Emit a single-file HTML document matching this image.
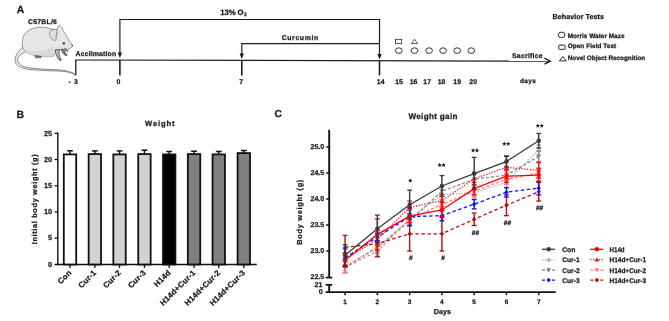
<!DOCTYPE html>
<html><head><meta charset="utf-8"><style>
html,body{margin:0;padding:0;background:#fff;}
body{width:669px;height:321px;overflow:hidden;}
svg{display:block;will-change:transform;}
svg text{font-family:"Liberation Sans",sans-serif;font-weight:bold;text-rendering:geometricPrecision;stroke:#1a1a1a;stroke-width:0.25px;}
</style></head><body>
<svg width="669" height="321" viewBox="0 0 669 321">
<text x="16.8" y="12.6" font-size="10.4" text-anchor="start" fill="#1a1a1a" >A</text>
<text x="28" y="24.3" font-size="6.8" text-anchor="start" fill="#1a1a1a" textLength="28.9" lengthAdjust="spacing" >C57BL/6</text>
<g id="mouse" stroke="#7a7a7a" stroke-width="0.75" stroke-linejoin="round" stroke-linecap="round">
  <path d="M22.3,47.6 C18.5,51.5 15,55.5 15,59.8 C15,64 18.5,67 24,68.5 C32,70.3 46,70.6 58,71 C66,71.3 71,72.5 74.2,74.3 L75.7,75.4 L75.3,74.2 C71.5,71.8 66,70.3 58,69.8 C46,69.2 33,68.9 25.5,67.1 C20.5,65.7 17.6,63 17.6,59.5 C17.6,56.5 20.5,53.8 25.6,51.9 Z" fill="#ececec" stroke="#6e6e6e" stroke-width="0.8"/>
  <path d="M22.5,47.4 C21.8,42 22.5,36 26,32.5 C29.5,29 34.5,27.3 40,27.2 C45,27.2 49.5,28.2 53,29.5 L57.2,30 C57.4,28 57.8,26 58.5,25.7 C59.6,25.3 61,26.2 61.8,27.5 C62.6,28.8 63,30 63.2,30.5 C64.5,33 66.5,36 68.5,39.5 C70,42 71.2,43.5 72.3,45 C72.8,45.8 72.5,46.5 71.8,47.2 C70.8,48.2 69.5,48.8 68,49.2 C66,49.3 63,49 60,49.3 C58,49.5 56.5,50.5 55.5,51.5 C55,53.5 54.5,55 54,56 C50,57 45,56.8 41.5,56.2 C37,55.7 32,55 28,53.5 C26,52.8 24,50.5 22.5,47.4 Z" fill="#e6e6e6"/>
  <path d="M23.5,48.5 C28,50.5 34,51.5 40,51 C46,50.5 50,48.5 53,46 C54.5,48 55.5,50 55.5,51.5 C55,53.5 54.5,55 54,56 C50,57 45,56.8 41.5,56.2 C37,55.7 32,55 28,53.5 C26,52.8 24.5,50.5 23.5,48.5 Z" fill="#d9d9d9" stroke="none"/>
  <path d="M35,55.4 L41.6,56.2 L40.6,58.1 L38.3,57.4 L36.6,58.3 L35.4,57.2 Z" fill="#6a6a6a" stroke="#555" stroke-width="0.5"/>
  <path d="M52.9,29.4 C50.5,30 49.3,32 49.5,34.5 C49.7,37 51.5,39 53.5,40 C54.8,40.6 55.8,40.5 56,39.5 C56.3,37 57,33 57.2,30 C56,29.4 54.3,29.1 52.9,29.4 Z" fill="#dedede"/>
  <path d="M55.6,36.2 C56.2,34.8 56.9,33.6 57.7,32.6" fill="none" stroke-width="0.6"/>
  <path d="M55.3,50.3 C55.5,53.5 56.8,56.5 58.3,58.8 L60.6,60.8 L61.4,59.8 C60.4,58.4 59.6,56.8 59.2,55 C58.8,53 58.9,51.5 59.6,50 Z" fill="#c4c4c4" stroke="#4a4a4a" stroke-width="0.9"/>
  <path d="M58.6,58.6 L59.4,60.3 M59.8,58.2 L60.9,59.6" stroke="#444" stroke-width="0.6"/>
  <path d="M61.3,49.6 C61.8,52 63.2,54 65.2,55.4 L67,55.6 L66.6,54 C65.4,53 64.8,51.8 64.8,50.2 Z" fill="#7a7a7a" stroke="#4a4a4a" stroke-width="0.7"/>
  <path d="M65,48.8 C66,49.8 67,50.6 67.8,51.3" stroke="#444" stroke-width="1.1"/>
  <ellipse cx="63.8" cy="43.4" rx="1.2" ry="1.1" fill="#262626" stroke="none"/>
  <circle cx="72.2" cy="45.6" r="0.75" fill="#333" stroke="none"/>
</g>
<line x1="75.8" y1="60" x2="549.5" y2="61.2" stroke="#1e1e1e" stroke-width="1.2"/>
<path d="M544.4,58.2 L550.3,61.2 L544.4,64.2" fill="none" stroke="#1e1e1e" stroke-width="1.3"/>
<line x1="75.8" y1="59.4" x2="75.8" y2="75.3" stroke="#1e1e1e" stroke-width="1.3"/>
<line x1="119.9" y1="60" x2="119.9" y2="75.4" stroke="#1e1e1e" stroke-width="1.6"/>
<line x1="241.8" y1="60.3" x2="241.8" y2="75.4" stroke="#1e1e1e" stroke-width="1.6"/>
<line x1="379.5" y1="61" x2="379.5" y2="75.4" stroke="#1e1e1e" stroke-width="1.6"/>
<path d="M119.9,54 L119.9,19.5 L379.5,19.5 L379.5,55" fill="none" stroke="#1e1e1e" stroke-width="1.2"/>
<path d="M117.7,52.6 L122.1,52.6 L119.9,58 Z" fill="#1e1e1e"/>
<path d="M377.3,54 L381.7,54 L379.5,59.5 Z" fill="#1e1e1e"/>
<path d="M241.8,54.5 L241.8,43.6 L380,43.6" fill="none" stroke="#1e1e1e" stroke-width="1.2"/>
<path d="M239.6,53.5 L244,53.5 L241.8,59 Z" fill="#1e1e1e"/>
<text x="220.3" y="14.5" font-size="7.8" text-anchor="start" fill="#1a1a1a" textLength="23.2" lengthAdjust="spacing" >13% O</text>
<text x="244.1" y="16.2" font-size="5.0" text-anchor="start" fill="#1a1a1a" >2</text>
<text x="281.7" y="39.7" font-size="6.9" text-anchor="start" fill="#1a1a1a" textLength="36.5" lengthAdjust="spacing" >Curcumin</text>
<text x="75.5" y="55.8" font-size="6.9" text-anchor="start" fill="#1a1a1a" textLength="40.7" lengthAdjust="spacing" >Acclimation</text>
<text x="68.5" y="83.7" font-size="6.9" text-anchor="start" fill="#1a1a1a" >-</text>
<text x="76.0" y="83.7" font-size="6.9" text-anchor="middle" fill="#1a1a1a" >3</text>
<text x="118.3" y="83.7" font-size="6.9" text-anchor="middle" fill="#1a1a1a" >0</text>
<text x="241.2" y="83.7" font-size="6.9" text-anchor="middle" fill="#1a1a1a" >7</text>
<text x="380.7" y="83.7" font-size="6.9" text-anchor="middle" fill="#1a1a1a" >14</text>
<text x="399.1" y="83.7" font-size="6.9" text-anchor="middle" fill="#1a1a1a" >15</text>
<text x="413.5" y="83.7" font-size="6.9" text-anchor="middle" fill="#1a1a1a" >16</text>
<text x="427.2" y="83.7" font-size="6.9" text-anchor="middle" fill="#1a1a1a" >17</text>
<text x="441.5" y="83.7" font-size="6.9" text-anchor="middle" fill="#1a1a1a" >18</text>
<text x="457.2" y="83.7" font-size="6.9" text-anchor="middle" fill="#1a1a1a" >19</text>
<text x="473.2" y="83.7" font-size="6.9" text-anchor="middle" fill="#1a1a1a" >20</text>
<text x="527.9" y="83.3" font-size="6.5" text-anchor="middle" fill="#1a1a1a" textLength="15.9" lengthAdjust="spacing" >days</text>
<text x="512" y="57.8" font-size="6.9" text-anchor="start" fill="#1a1a1a" textLength="30.6" lengthAdjust="spacing" >Sacrifice</text>
<rect x="395.5" y="39.3" width="6.2" height="4.4" fill="none" stroke="#2a2a2a" stroke-width="0.8"/>
<path d="M411.4,43.6 L417.6,43.6 L414.5,39.2 Z" fill="none" stroke="#2a2a2a" stroke-width="0.8"/>
<ellipse cx="398.8" cy="50.6" rx="3.35" ry="2.8" fill="none" stroke="#2a2a2a" stroke-width="0.95"/>
<ellipse cx="414.5" cy="50.6" rx="3.35" ry="2.8" fill="none" stroke="#2a2a2a" stroke-width="0.95"/>
<ellipse cx="429.1" cy="50.6" rx="3.35" ry="2.8" fill="none" stroke="#2a2a2a" stroke-width="0.95"/>
<ellipse cx="443.1" cy="50.6" rx="3.35" ry="2.8" fill="none" stroke="#2a2a2a" stroke-width="0.95"/>
<ellipse cx="457.2" cy="50.6" rx="3.35" ry="2.8" fill="none" stroke="#2a2a2a" stroke-width="0.95"/>
<ellipse cx="471.3" cy="50.6" rx="3.35" ry="2.8" fill="none" stroke="#2a2a2a" stroke-width="0.95"/>
<text x="552.5" y="18.9" font-size="7.2" text-anchor="start" fill="#1a1a1a" textLength="51.5" lengthAdjust="spacing" >Behavior Tests</text>
<ellipse cx="561.6" cy="34.9" rx="3.4" ry="2.8" fill="none" stroke="#2a2a2a" stroke-width="1"/>
<rect x="558.8" y="45.1" width="6.3" height="4.3" rx="0.6" fill="none" stroke="#2a2a2a" stroke-width="1"/>
<path d="M559.4,60.9 L566.2,60.9 L562.8,56.5 Z" fill="none" stroke="#2a2a2a" stroke-width="1" stroke-linejoin="round"/>
<text x="567.7" y="37.8" font-size="6.4" text-anchor="start" fill="#1a1a1a" textLength="56.8" lengthAdjust="spacing" >Morris Water Maze</text>
<text x="567.7" y="48.0" font-size="6.4" text-anchor="start" fill="#1a1a1a" textLength="48.5" lengthAdjust="spacing" >Open Field Test</text>
<text x="567.7" y="59.6" font-size="6.4" text-anchor="start" fill="#1a1a1a" textLength="77.5" lengthAdjust="spacing" >Novel Object Recognition</text>
<text x="16.4" y="117.6" font-size="10.5" text-anchor="start" fill="#1a1a1a" >B</text>
<text x="145" y="126.0" font-size="7.6" fill="#1a1a1a" textLength="29.6" lengthAdjust="spacing">Weight</text>
<line x1="57.8" y1="132.6" x2="57.8" y2="265.2" stroke="#111" stroke-width="1.4"/>
<line x1="54.6" y1="264.5" x2="256.8" y2="264.5" stroke="#111" stroke-width="1.4"/>
<text x="52.1" y="266.59999999999997" font-size="7.3" text-anchor="end" fill="#1a1a1a" >0</text>
<line x1="54.6" y1="238.18" x2="57.8" y2="238.18" stroke="#111" stroke-width="1.3"/>
<text x="52.1" y="240.37999999999997" font-size="7.3" text-anchor="end" fill="#1a1a1a" >5</text>
<line x1="54.6" y1="211.96" x2="57.8" y2="211.96" stroke="#111" stroke-width="1.3"/>
<text x="52.1" y="214.15999999999997" font-size="7.3" text-anchor="end" fill="#1a1a1a" >10</text>
<line x1="54.6" y1="185.74" x2="57.8" y2="185.74" stroke="#111" stroke-width="1.3"/>
<text x="52.1" y="187.93999999999997" font-size="7.3" text-anchor="end" fill="#1a1a1a" >15</text>
<line x1="54.6" y1="159.52" x2="57.8" y2="159.52" stroke="#111" stroke-width="1.3"/>
<text x="52.1" y="161.71999999999997" font-size="7.3" text-anchor="end" fill="#1a1a1a" >20</text>
<line x1="54.6" y1="133.30" x2="57.8" y2="133.30" stroke="#111" stroke-width="1.3"/>
<text x="52.1" y="135.49999999999997" font-size="7.3" text-anchor="end" fill="#1a1a1a" >25</text>
<rect x="63.80" y="154.4" width="12.4" height="110.10" fill="#ffffff" stroke="#111" stroke-width="1.8"/>
<line x1="70.00" y1="150.8" x2="70.00" y2="154.4" stroke="#111" stroke-width="1.4"/>
<line x1="67.10" y1="150.8" x2="72.90" y2="150.8" stroke="#111" stroke-width="1.5"/>
<line x1="70.00" y1="264.5" x2="70.00" y2="268" stroke="#111" stroke-width="1.3"/>
<rect x="88.65" y="154.1" width="12.4" height="110.40" fill="#d2d2d2" stroke="#111" stroke-width="1.8"/>
<line x1="94.85" y1="150.9" x2="94.85" y2="154.1" stroke="#111" stroke-width="1.4"/>
<line x1="91.95" y1="150.9" x2="97.75" y2="150.9" stroke="#111" stroke-width="1.5"/>
<line x1="94.85" y1="264.5" x2="94.85" y2="268" stroke="#111" stroke-width="1.3"/>
<rect x="113.35" y="154.4" width="12.4" height="110.10" fill="#d2d2d2" stroke="#111" stroke-width="1.8"/>
<line x1="119.55" y1="150.9" x2="119.55" y2="154.4" stroke="#111" stroke-width="1.4"/>
<line x1="116.65" y1="150.9" x2="122.45" y2="150.9" stroke="#111" stroke-width="1.5"/>
<line x1="119.55" y1="264.5" x2="119.55" y2="268" stroke="#111" stroke-width="1.3"/>
<rect x="138.25" y="154.1" width="12.4" height="110.40" fill="#d2d2d2" stroke="#111" stroke-width="1.8"/>
<line x1="144.45" y1="150.2" x2="144.45" y2="154.1" stroke="#111" stroke-width="1.4"/>
<line x1="141.55" y1="150.2" x2="147.35" y2="150.2" stroke="#111" stroke-width="1.5"/>
<line x1="144.45" y1="264.5" x2="144.45" y2="268" stroke="#111" stroke-width="1.3"/>
<rect x="163.00" y="154.4" width="12.4" height="110.10" fill="#000000" stroke="#111" stroke-width="1.8"/>
<line x1="169.20" y1="151.5" x2="169.20" y2="154.4" stroke="#111" stroke-width="1.4"/>
<line x1="166.30" y1="151.5" x2="172.10" y2="151.5" stroke="#111" stroke-width="1.5"/>
<line x1="169.20" y1="264.5" x2="169.20" y2="268" stroke="#111" stroke-width="1.3"/>
<rect x="187.85" y="154.1" width="12.4" height="110.40" fill="#808080" stroke="#111" stroke-width="1.8"/>
<line x1="194.05" y1="151.2" x2="194.05" y2="154.1" stroke="#111" stroke-width="1.4"/>
<line x1="191.15" y1="151.2" x2="196.95" y2="151.2" stroke="#111" stroke-width="1.5"/>
<line x1="194.05" y1="264.5" x2="194.05" y2="268" stroke="#111" stroke-width="1.3"/>
<rect x="212.55" y="154.4" width="12.4" height="110.10" fill="#808080" stroke="#111" stroke-width="1.8"/>
<line x1="218.75" y1="151.5" x2="218.75" y2="154.4" stroke="#111" stroke-width="1.4"/>
<line x1="215.85" y1="151.5" x2="221.65" y2="151.5" stroke="#111" stroke-width="1.5"/>
<line x1="218.75" y1="264.5" x2="218.75" y2="268" stroke="#111" stroke-width="1.3"/>
<rect x="237.60" y="153.1" width="12.4" height="111.40" fill="#808080" stroke="#111" stroke-width="1.8"/>
<line x1="243.80" y1="150.5" x2="243.80" y2="153.1" stroke="#111" stroke-width="1.4"/>
<line x1="240.90" y1="150.5" x2="246.70" y2="150.5" stroke="#111" stroke-width="1.5"/>
<line x1="243.80" y1="264.5" x2="243.80" y2="268" stroke="#111" stroke-width="1.3"/>
<text transform="translate(72.00,273.3) rotate(-45)" letter-spacing="0.2" font-size="7.9" text-anchor="end" fill="#1a1a1a">Con</text>
<text transform="translate(96.85,273.3) rotate(-45)" letter-spacing="0.2" font-size="7.9" text-anchor="end" fill="#1a1a1a">Cur-1</text>
<text transform="translate(121.55,273.3) rotate(-45)" letter-spacing="0.2" font-size="7.9" text-anchor="end" fill="#1a1a1a">Cur-2</text>
<text transform="translate(146.45,273.3) rotate(-45)" letter-spacing="0.2" font-size="7.9" text-anchor="end" fill="#1a1a1a">Cur-3</text>
<text transform="translate(171.20,273.3) rotate(-45)" letter-spacing="0.2" font-size="7.9" text-anchor="end" fill="#1a1a1a">H14d</text>
<text transform="translate(196.05,273.3) rotate(-45)" letter-spacing="0.2" font-size="7.9" text-anchor="end" fill="#1a1a1a">H14d+Cur-1</text>
<text transform="translate(220.75,273.3) rotate(-45)" letter-spacing="0.2" font-size="7.9" text-anchor="end" fill="#1a1a1a">H14d+Cur-2</text>
<text transform="translate(245.80,273.3) rotate(-45)" letter-spacing="0.2" font-size="7.9" text-anchor="end" fill="#1a1a1a">H14d+Cur-3</text>
<text transform="translate(36.9,199.3) rotate(-90)" font-size="7.3" text-anchor="middle" fill="#1a1a1a" textLength="90" lengthAdjust="spacing">Initial body weight (g)</text>
<text x="274.4" y="117.4" font-size="10.1" text-anchor="start" fill="#1a1a1a" >C</text>
<text x="432.9" y="118.7" font-size="8.1" text-anchor="middle" fill="#1a1a1a" textLength="49" lengthAdjust="spacing" >Weight gain</text>
<line x1="329.2" y1="129.8" x2="329.2" y2="277.6" stroke="#111" stroke-width="1.9"/>
<line x1="325.7" y1="277.6" x2="332.2" y2="277.6" stroke="#111" stroke-width="1.8"/>
<line x1="325.7" y1="284.9" x2="332.2" y2="284.9" stroke="#111" stroke-width="1.8"/>
<line x1="329.2" y1="284.9" x2="329.2" y2="292.1" stroke="#111" stroke-width="1.9"/>
<line x1="325.7" y1="292.1" x2="555.7" y2="292.1" stroke="#111" stroke-width="1.7"/>
<line x1="326.2" y1="147.00" x2="329.2" y2="147.00" stroke="#111" stroke-width="1.5"/>
<line x1="326.2" y1="173.00" x2="329.2" y2="173.00" stroke="#111" stroke-width="1.5"/>
<line x1="326.2" y1="199.00" x2="329.2" y2="199.00" stroke="#111" stroke-width="1.5"/>
<line x1="326.2" y1="225.00" x2="329.2" y2="225.00" stroke="#111" stroke-width="1.5"/>
<line x1="326.2" y1="251.00" x2="329.2" y2="251.00" stroke="#111" stroke-width="1.5"/>
<text x="324.3" y="149.4" font-size="7.1" text-anchor="end" fill="#1a1a1a" >25.0</text>
<text x="324.3" y="175.4" font-size="7.1" text-anchor="end" fill="#1a1a1a" >24.5</text>
<text x="324.3" y="201.4" font-size="7.1" text-anchor="end" fill="#1a1a1a" >24.0</text>
<text x="324.3" y="227.4" font-size="7.1" text-anchor="end" fill="#1a1a1a" >23.5</text>
<text x="324.3" y="253.4" font-size="7.1" text-anchor="end" fill="#1a1a1a" >23.0</text>
<text x="324.3" y="279.4" font-size="7.1" text-anchor="end" fill="#1a1a1a" >22.5</text>
<text x="322.5" y="287.2" font-size="7.1" text-anchor="end" fill="#1a1a1a" >21</text>
<text x="322.8" y="294.3" font-size="7.1" text-anchor="end" fill="#1a1a1a" >0</text>
<line x1="345.10" y1="292.1" x2="345.10" y2="295.2" stroke="#111" stroke-width="1.5"/>
<text x="345.1" y="303.6" font-size="6.5" text-anchor="middle" fill="#1a1a1a" >1</text>
<line x1="377.37" y1="292.1" x2="377.37" y2="295.2" stroke="#111" stroke-width="1.5"/>
<text x="377.37" y="303.6" font-size="6.5" text-anchor="middle" fill="#1a1a1a" >2</text>
<line x1="409.64" y1="292.1" x2="409.64" y2="295.2" stroke="#111" stroke-width="1.5"/>
<text x="409.64000000000004" y="303.6" font-size="6.5" text-anchor="middle" fill="#1a1a1a" >3</text>
<line x1="441.91" y1="292.1" x2="441.91" y2="295.2" stroke="#111" stroke-width="1.5"/>
<text x="441.91" y="303.6" font-size="6.5" text-anchor="middle" fill="#1a1a1a" >4</text>
<line x1="474.18" y1="292.1" x2="474.18" y2="295.2" stroke="#111" stroke-width="1.5"/>
<text x="474.18000000000006" y="303.6" font-size="6.5" text-anchor="middle" fill="#1a1a1a" >5</text>
<line x1="506.45" y1="292.1" x2="506.45" y2="295.2" stroke="#111" stroke-width="1.5"/>
<text x="506.45000000000005" y="303.6" font-size="6.5" text-anchor="middle" fill="#1a1a1a" >6</text>
<line x1="538.72" y1="292.1" x2="538.72" y2="295.2" stroke="#111" stroke-width="1.5"/>
<text x="538.72" y="303.6" font-size="6.5" text-anchor="middle" fill="#1a1a1a" >7</text>
<text x="442.3" y="313.6" font-size="7.2" text-anchor="middle" fill="#1a1a1a" textLength="17.3" lengthAdjust="spacing" >Days</text>
<text transform="translate(301.5,212.2) rotate(-90)" font-size="7.3" text-anchor="middle" fill="#1a1a1a" textLength="65" lengthAdjust="spacing">Body weight (g)</text>
<polyline points="345.10,265.56 377.37,248.40 409.64,218.76 441.91,194.84 474.18,192.76 506.45,182.36 538.72,150.12" fill="none" stroke="#ababab" stroke-width="1.3" stroke-dasharray="1.2,1.6"/>
<polyline points="345.10,267.64 377.37,246.84 409.64,220.84 441.91,191.20 474.18,179.24 506.45,175.08 538.72,156.36" fill="none" stroke="#8a8a8a" stroke-width="1.3" stroke-dasharray="3,2"/>
<polyline points="345.10,267.64 377.37,251.00 409.64,219.80 441.91,204.20 474.18,191.20 506.45,179.24 538.72,173.00" fill="none" stroke="#ff8080" stroke-width="1.3" stroke-dasharray="3,2"/>
<polyline points="345.10,258.80 377.37,239.56 409.64,207.32 441.91,200.56 474.18,178.72 506.45,167.28 538.72,170.40" fill="none" stroke="#ff1010" stroke-width="1.3" stroke-dasharray="1.2,1.6"/>
<polyline points="345.10,247.36 377.37,243.72 409.64,233.84 441.91,233.84 474.18,219.28 506.45,205.24 538.72,191.72" fill="none" stroke="#b01010" stroke-width="1.3" stroke-dasharray="3.5,2.5"/>
<polyline points="345.10,257.76 377.37,236.96 409.64,216.68 441.91,215.64 474.18,204.20 506.45,192.24 538.72,188.08" fill="none" stroke="#1010ff" stroke-width="1.3" stroke-dasharray="3.5,2.5"/>
<polyline points="345.10,260.36 377.37,234.36 409.64,216.16 441.91,209.92 474.18,188.60 506.45,176.12 538.72,175.08" fill="none" stroke="#ff0000" stroke-width="1.3"/>
<polyline points="345.10,255.16 377.37,228.64 409.64,204.72 441.91,186.00 474.18,173.52 506.45,161.56 538.72,140.76" fill="none" stroke="#3a3a3a" stroke-width="1.3"/>
<line x1="345.10" y1="260.36" x2="345.10" y2="270.76" stroke="#ababab" stroke-width="1.4"/>
<line x1="342.70" y1="260.36" x2="347.50" y2="260.36" stroke="#ababab" stroke-width="1.3"/>
<line x1="342.70" y1="270.76" x2="347.50" y2="270.76" stroke="#ababab" stroke-width="1.4"/>
<path d="M342.70,267.36 L347.50,267.36 L345.10,263.16 Z" fill="#ababab"/>
<line x1="377.37" y1="243.20" x2="377.37" y2="253.60" stroke="#ababab" stroke-width="1.4"/>
<line x1="374.97" y1="243.20" x2="379.77" y2="243.20" stroke="#ababab" stroke-width="1.3"/>
<line x1="374.97" y1="253.60" x2="379.77" y2="253.60" stroke="#ababab" stroke-width="1.4"/>
<path d="M374.97,250.20 L379.77,250.20 L377.37,246.00 Z" fill="#ababab"/>
<line x1="409.64" y1="213.56" x2="409.64" y2="223.96" stroke="#ababab" stroke-width="1.4"/>
<line x1="407.24" y1="213.56" x2="412.04" y2="213.56" stroke="#ababab" stroke-width="1.3"/>
<line x1="407.24" y1="223.96" x2="412.04" y2="223.96" stroke="#ababab" stroke-width="1.4"/>
<path d="M407.24,220.56 L412.04,220.56 L409.64,216.36 Z" fill="#ababab"/>
<line x1="441.91" y1="189.64" x2="441.91" y2="200.04" stroke="#ababab" stroke-width="1.4"/>
<line x1="439.51" y1="189.64" x2="444.31" y2="189.64" stroke="#ababab" stroke-width="1.3"/>
<line x1="439.51" y1="200.04" x2="444.31" y2="200.04" stroke="#ababab" stroke-width="1.4"/>
<path d="M439.51,196.64 L444.31,196.64 L441.91,192.44 Z" fill="#ababab"/>
<line x1="474.18" y1="187.56" x2="474.18" y2="197.96" stroke="#ababab" stroke-width="1.4"/>
<line x1="471.78" y1="187.56" x2="476.58" y2="187.56" stroke="#ababab" stroke-width="1.3"/>
<line x1="471.78" y1="197.96" x2="476.58" y2="197.96" stroke="#ababab" stroke-width="1.4"/>
<path d="M471.78,194.56 L476.58,194.56 L474.18,190.36 Z" fill="#ababab"/>
<line x1="506.45" y1="177.16" x2="506.45" y2="187.56" stroke="#ababab" stroke-width="1.4"/>
<line x1="504.05" y1="177.16" x2="508.85" y2="177.16" stroke="#ababab" stroke-width="1.3"/>
<line x1="504.05" y1="187.56" x2="508.85" y2="187.56" stroke="#ababab" stroke-width="1.4"/>
<path d="M504.05,184.16 L508.85,184.16 L506.45,179.96 Z" fill="#ababab"/>
<line x1="538.72" y1="144.92" x2="538.72" y2="155.32" stroke="#ababab" stroke-width="1.4"/>
<line x1="536.32" y1="144.92" x2="541.12" y2="144.92" stroke="#ababab" stroke-width="1.3"/>
<line x1="536.32" y1="155.32" x2="541.12" y2="155.32" stroke="#ababab" stroke-width="1.4"/>
<path d="M536.32,151.92 L541.12,151.92 L538.72,147.72 Z" fill="#ababab"/>
<line x1="345.10" y1="262.44" x2="345.10" y2="272.84" stroke="#8a8a8a" stroke-width="1.4"/>
<line x1="342.70" y1="262.44" x2="347.50" y2="262.44" stroke="#8a8a8a" stroke-width="1.3"/>
<line x1="342.70" y1="272.84" x2="347.50" y2="272.84" stroke="#8a8a8a" stroke-width="1.4"/>
<path d="M342.70,265.84 L347.50,265.84 L345.10,270.04 Z" fill="#8a8a8a"/>
<line x1="377.37" y1="241.64" x2="377.37" y2="252.04" stroke="#8a8a8a" stroke-width="1.4"/>
<line x1="374.97" y1="241.64" x2="379.77" y2="241.64" stroke="#8a8a8a" stroke-width="1.3"/>
<line x1="374.97" y1="252.04" x2="379.77" y2="252.04" stroke="#8a8a8a" stroke-width="1.4"/>
<path d="M374.97,245.04 L379.77,245.04 L377.37,249.24 Z" fill="#8a8a8a"/>
<line x1="409.64" y1="215.64" x2="409.64" y2="226.04" stroke="#8a8a8a" stroke-width="1.4"/>
<line x1="407.24" y1="215.64" x2="412.04" y2="215.64" stroke="#8a8a8a" stroke-width="1.3"/>
<line x1="407.24" y1="226.04" x2="412.04" y2="226.04" stroke="#8a8a8a" stroke-width="1.4"/>
<path d="M407.24,219.04 L412.04,219.04 L409.64,223.24 Z" fill="#8a8a8a"/>
<line x1="441.91" y1="186.00" x2="441.91" y2="196.40" stroke="#8a8a8a" stroke-width="1.4"/>
<line x1="439.51" y1="186.00" x2="444.31" y2="186.00" stroke="#8a8a8a" stroke-width="1.3"/>
<line x1="439.51" y1="196.40" x2="444.31" y2="196.40" stroke="#8a8a8a" stroke-width="1.4"/>
<path d="M439.51,189.40 L444.31,189.40 L441.91,193.60 Z" fill="#8a8a8a"/>
<line x1="474.18" y1="174.04" x2="474.18" y2="184.44" stroke="#8a8a8a" stroke-width="1.4"/>
<line x1="471.78" y1="174.04" x2="476.58" y2="174.04" stroke="#8a8a8a" stroke-width="1.3"/>
<line x1="471.78" y1="184.44" x2="476.58" y2="184.44" stroke="#8a8a8a" stroke-width="1.4"/>
<path d="M471.78,177.44 L476.58,177.44 L474.18,181.64 Z" fill="#8a8a8a"/>
<line x1="506.45" y1="169.88" x2="506.45" y2="180.28" stroke="#8a8a8a" stroke-width="1.4"/>
<line x1="504.05" y1="169.88" x2="508.85" y2="169.88" stroke="#8a8a8a" stroke-width="1.3"/>
<line x1="504.05" y1="180.28" x2="508.85" y2="180.28" stroke="#8a8a8a" stroke-width="1.4"/>
<path d="M504.05,173.28 L508.85,173.28 L506.45,177.48 Z" fill="#8a8a8a"/>
<line x1="538.72" y1="151.16" x2="538.72" y2="161.56" stroke="#8a8a8a" stroke-width="1.4"/>
<line x1="536.32" y1="151.16" x2="541.12" y2="151.16" stroke="#8a8a8a" stroke-width="1.3"/>
<line x1="536.32" y1="161.56" x2="541.12" y2="161.56" stroke="#8a8a8a" stroke-width="1.4"/>
<path d="M536.32,154.56 L541.12,154.56 L538.72,158.76 Z" fill="#8a8a8a"/>
<line x1="345.10" y1="262.44" x2="345.10" y2="272.84" stroke="#ff8080" stroke-width="1.4"/>
<line x1="342.70" y1="262.44" x2="347.50" y2="262.44" stroke="#ff8080" stroke-width="1.3"/>
<line x1="342.70" y1="272.84" x2="347.50" y2="272.84" stroke="#ff8080" stroke-width="1.4"/>
<path d="M342.70,265.84 L347.50,265.84 L345.10,270.04 Z" fill="#ff8080"/>
<line x1="377.37" y1="245.80" x2="377.37" y2="256.20" stroke="#ff8080" stroke-width="1.4"/>
<line x1="374.97" y1="245.80" x2="379.77" y2="245.80" stroke="#ff8080" stroke-width="1.3"/>
<line x1="374.97" y1="256.20" x2="379.77" y2="256.20" stroke="#ff8080" stroke-width="1.4"/>
<path d="M374.97,249.20 L379.77,249.20 L377.37,253.40 Z" fill="#ff8080"/>
<line x1="409.64" y1="214.60" x2="409.64" y2="225.00" stroke="#ff8080" stroke-width="1.4"/>
<line x1="407.24" y1="214.60" x2="412.04" y2="214.60" stroke="#ff8080" stroke-width="1.3"/>
<line x1="407.24" y1="225.00" x2="412.04" y2="225.00" stroke="#ff8080" stroke-width="1.4"/>
<path d="M407.24,218.00 L412.04,218.00 L409.64,222.20 Z" fill="#ff8080"/>
<line x1="441.91" y1="199.00" x2="441.91" y2="209.40" stroke="#ff8080" stroke-width="1.4"/>
<line x1="439.51" y1="199.00" x2="444.31" y2="199.00" stroke="#ff8080" stroke-width="1.3"/>
<line x1="439.51" y1="209.40" x2="444.31" y2="209.40" stroke="#ff8080" stroke-width="1.4"/>
<path d="M439.51,202.40 L444.31,202.40 L441.91,206.60 Z" fill="#ff8080"/>
<line x1="474.18" y1="186.00" x2="474.18" y2="196.40" stroke="#ff8080" stroke-width="1.4"/>
<line x1="471.78" y1="186.00" x2="476.58" y2="186.00" stroke="#ff8080" stroke-width="1.3"/>
<line x1="471.78" y1="196.40" x2="476.58" y2="196.40" stroke="#ff8080" stroke-width="1.4"/>
<path d="M471.78,189.40 L476.58,189.40 L474.18,193.60 Z" fill="#ff8080"/>
<line x1="506.45" y1="174.04" x2="506.45" y2="184.44" stroke="#ff8080" stroke-width="1.4"/>
<line x1="504.05" y1="174.04" x2="508.85" y2="174.04" stroke="#ff8080" stroke-width="1.3"/>
<line x1="504.05" y1="184.44" x2="508.85" y2="184.44" stroke="#ff8080" stroke-width="1.4"/>
<path d="M504.05,177.44 L508.85,177.44 L506.45,181.64 Z" fill="#ff8080"/>
<line x1="538.72" y1="167.80" x2="538.72" y2="178.20" stroke="#ff8080" stroke-width="1.4"/>
<line x1="536.32" y1="167.80" x2="541.12" y2="167.80" stroke="#ff8080" stroke-width="1.3"/>
<line x1="536.32" y1="178.20" x2="541.12" y2="178.20" stroke="#ff8080" stroke-width="1.4"/>
<path d="M536.32,171.20 L541.12,171.20 L538.72,175.40 Z" fill="#ff8080"/>
<line x1="345.10" y1="252.56" x2="345.10" y2="265.04" stroke="#ff1010" stroke-width="1.4"/>
<line x1="342.70" y1="252.56" x2="347.50" y2="252.56" stroke="#ff1010" stroke-width="1.3"/>
<line x1="342.70" y1="265.04" x2="347.50" y2="265.04" stroke="#ff1010" stroke-width="1.4"/>
<path d="M342.70,260.60 L347.50,260.60 L345.10,256.40 Z" fill="#ff1010"/>
<line x1="377.37" y1="233.32" x2="377.37" y2="245.80" stroke="#ff1010" stroke-width="1.4"/>
<line x1="374.97" y1="233.32" x2="379.77" y2="233.32" stroke="#ff1010" stroke-width="1.3"/>
<line x1="374.97" y1="245.80" x2="379.77" y2="245.80" stroke="#ff1010" stroke-width="1.4"/>
<path d="M374.97,241.36 L379.77,241.36 L377.37,237.16 Z" fill="#ff1010"/>
<line x1="409.64" y1="201.08" x2="409.64" y2="213.56" stroke="#ff1010" stroke-width="1.4"/>
<line x1="407.24" y1="201.08" x2="412.04" y2="201.08" stroke="#ff1010" stroke-width="1.3"/>
<line x1="407.24" y1="213.56" x2="412.04" y2="213.56" stroke="#ff1010" stroke-width="1.4"/>
<path d="M407.24,209.12 L412.04,209.12 L409.64,204.92 Z" fill="#ff1010"/>
<line x1="441.91" y1="194.32" x2="441.91" y2="206.80" stroke="#ff1010" stroke-width="1.4"/>
<line x1="439.51" y1="194.32" x2="444.31" y2="194.32" stroke="#ff1010" stroke-width="1.3"/>
<line x1="439.51" y1="206.80" x2="444.31" y2="206.80" stroke="#ff1010" stroke-width="1.4"/>
<path d="M439.51,202.36 L444.31,202.36 L441.91,198.16 Z" fill="#ff1010"/>
<line x1="474.18" y1="172.48" x2="474.18" y2="184.96" stroke="#ff1010" stroke-width="1.4"/>
<line x1="471.78" y1="172.48" x2="476.58" y2="172.48" stroke="#ff1010" stroke-width="1.3"/>
<line x1="471.78" y1="184.96" x2="476.58" y2="184.96" stroke="#ff1010" stroke-width="1.4"/>
<path d="M471.78,180.52 L476.58,180.52 L474.18,176.32 Z" fill="#ff1010"/>
<line x1="506.45" y1="155.84" x2="506.45" y2="178.72" stroke="#ff1010" stroke-width="1.4"/>
<line x1="504.05" y1="155.84" x2="508.85" y2="155.84" stroke="#ff1010" stroke-width="1.3"/>
<line x1="504.05" y1="178.72" x2="508.85" y2="178.72" stroke="#ff1010" stroke-width="1.4"/>
<path d="M504.05,169.08 L508.85,169.08 L506.45,164.88 Z" fill="#ff1010"/>
<line x1="538.72" y1="162.60" x2="538.72" y2="178.20" stroke="#ff1010" stroke-width="1.4"/>
<line x1="536.32" y1="162.60" x2="541.12" y2="162.60" stroke="#ff1010" stroke-width="1.3"/>
<line x1="536.32" y1="178.20" x2="541.12" y2="178.20" stroke="#ff1010" stroke-width="1.4"/>
<path d="M536.32,172.20 L541.12,172.20 L538.72,168.00 Z" fill="#ff1010"/>
<line x1="345.10" y1="235.40" x2="345.10" y2="259.32" stroke="#b01010" stroke-width="1.4"/>
<line x1="342.70" y1="235.40" x2="347.50" y2="235.40" stroke="#b01010" stroke-width="1.3"/>
<line x1="342.70" y1="259.32" x2="347.50" y2="259.32" stroke="#b01010" stroke-width="1.4"/>
<path d="M345.10,244.96 L347.30,247.36 L345.10,249.76 L342.90,247.36 Z" fill="#b01010"/>
<line x1="377.37" y1="230.72" x2="377.37" y2="256.72" stroke="#b01010" stroke-width="1.4"/>
<line x1="374.97" y1="230.72" x2="379.77" y2="230.72" stroke="#b01010" stroke-width="1.3"/>
<line x1="374.97" y1="256.72" x2="379.77" y2="256.72" stroke="#b01010" stroke-width="1.4"/>
<path d="M377.37,241.32 L379.57,243.72 L377.37,246.12 L375.17,243.72 Z" fill="#b01010"/>
<line x1="409.64" y1="216.68" x2="409.64" y2="251.00" stroke="#b01010" stroke-width="1.4"/>
<line x1="407.24" y1="216.68" x2="412.04" y2="216.68" stroke="#b01010" stroke-width="1.3"/>
<line x1="407.24" y1="251.00" x2="412.04" y2="251.00" stroke="#b01010" stroke-width="1.4"/>
<path d="M409.64,231.44 L411.84,233.84 L409.64,236.24 L407.44,233.84 Z" fill="#b01010"/>
<line x1="441.91" y1="216.68" x2="441.91" y2="251.00" stroke="#b01010" stroke-width="1.4"/>
<line x1="439.51" y1="216.68" x2="444.31" y2="216.68" stroke="#b01010" stroke-width="1.3"/>
<line x1="439.51" y1="251.00" x2="444.31" y2="251.00" stroke="#b01010" stroke-width="1.4"/>
<path d="M441.91,231.44 L444.11,233.84 L441.91,236.24 L439.71,233.84 Z" fill="#b01010"/>
<line x1="474.18" y1="213.04" x2="474.18" y2="225.52" stroke="#b01010" stroke-width="1.4"/>
<line x1="471.78" y1="213.04" x2="476.58" y2="213.04" stroke="#b01010" stroke-width="1.3"/>
<line x1="471.78" y1="225.52" x2="476.58" y2="225.52" stroke="#b01010" stroke-width="1.4"/>
<path d="M474.18,216.88 L476.38,219.28 L474.18,221.68 L471.98,219.28 Z" fill="#b01010"/>
<line x1="506.45" y1="194.84" x2="506.45" y2="215.64" stroke="#b01010" stroke-width="1.4"/>
<line x1="504.05" y1="194.84" x2="508.85" y2="194.84" stroke="#b01010" stroke-width="1.3"/>
<line x1="504.05" y1="215.64" x2="508.85" y2="215.64" stroke="#b01010" stroke-width="1.4"/>
<path d="M506.45,202.84 L508.65,205.24 L506.45,207.64 L504.25,205.24 Z" fill="#b01010"/>
<line x1="538.72" y1="182.36" x2="538.72" y2="201.08" stroke="#b01010" stroke-width="1.4"/>
<line x1="536.32" y1="182.36" x2="541.12" y2="182.36" stroke="#b01010" stroke-width="1.3"/>
<line x1="536.32" y1="201.08" x2="541.12" y2="201.08" stroke="#b01010" stroke-width="1.4"/>
<path d="M538.72,189.32 L540.92,191.72 L538.72,194.12 L536.52,191.72 Z" fill="#b01010"/>
<line x1="345.10" y1="248.92" x2="345.10" y2="266.60" stroke="#1010ff" stroke-width="1.4"/>
<line x1="342.70" y1="248.92" x2="347.50" y2="248.92" stroke="#1010ff" stroke-width="1.3"/>
<line x1="342.70" y1="266.60" x2="347.50" y2="266.60" stroke="#1010ff" stroke-width="1.4"/>
<path d="M345.10,255.36 L347.30,257.76 L345.10,260.16 L342.90,257.76 Z" fill="#1010ff"/>
<line x1="377.37" y1="233.32" x2="377.37" y2="240.60" stroke="#1010ff" stroke-width="1.4"/>
<line x1="374.97" y1="233.32" x2="379.77" y2="233.32" stroke="#1010ff" stroke-width="1.3"/>
<line x1="374.97" y1="240.60" x2="379.77" y2="240.60" stroke="#1010ff" stroke-width="1.4"/>
<path d="M377.37,234.56 L379.57,236.96 L377.37,239.36 L375.17,236.96 Z" fill="#1010ff"/>
<line x1="409.64" y1="207.84" x2="409.64" y2="225.52" stroke="#1010ff" stroke-width="1.4"/>
<line x1="407.24" y1="207.84" x2="412.04" y2="207.84" stroke="#1010ff" stroke-width="1.3"/>
<line x1="407.24" y1="225.52" x2="412.04" y2="225.52" stroke="#1010ff" stroke-width="1.4"/>
<path d="M409.64,214.28 L411.84,216.68 L409.64,219.08 L407.44,216.68 Z" fill="#1010ff"/>
<line x1="441.91" y1="210.44" x2="441.91" y2="220.84" stroke="#1010ff" stroke-width="1.4"/>
<line x1="439.51" y1="210.44" x2="444.31" y2="210.44" stroke="#1010ff" stroke-width="1.3"/>
<line x1="439.51" y1="220.84" x2="444.31" y2="220.84" stroke="#1010ff" stroke-width="1.4"/>
<path d="M441.91,213.24 L444.11,215.64 L441.91,218.04 L439.71,215.64 Z" fill="#1010ff"/>
<line x1="474.18" y1="199.52" x2="474.18" y2="208.88" stroke="#1010ff" stroke-width="1.4"/>
<line x1="471.78" y1="199.52" x2="476.58" y2="199.52" stroke="#1010ff" stroke-width="1.3"/>
<line x1="471.78" y1="208.88" x2="476.58" y2="208.88" stroke="#1010ff" stroke-width="1.4"/>
<path d="M474.18,201.80 L476.38,204.20 L474.18,206.60 L471.98,204.20 Z" fill="#1010ff"/>
<line x1="506.45" y1="187.56" x2="506.45" y2="196.92" stroke="#1010ff" stroke-width="1.4"/>
<line x1="504.05" y1="187.56" x2="508.85" y2="187.56" stroke="#1010ff" stroke-width="1.3"/>
<line x1="504.05" y1="196.92" x2="508.85" y2="196.92" stroke="#1010ff" stroke-width="1.4"/>
<path d="M506.45,189.84 L508.65,192.24 L506.45,194.64 L504.25,192.24 Z" fill="#1010ff"/>
<line x1="538.72" y1="181.32" x2="538.72" y2="194.84" stroke="#1010ff" stroke-width="1.4"/>
<line x1="536.32" y1="181.32" x2="541.12" y2="181.32" stroke="#1010ff" stroke-width="1.3"/>
<line x1="536.32" y1="194.84" x2="541.12" y2="194.84" stroke="#1010ff" stroke-width="1.4"/>
<path d="M538.72,185.68 L540.92,188.08 L538.72,190.48 L536.52,188.08 Z" fill="#1010ff"/>
<line x1="345.10" y1="253.60" x2="345.10" y2="267.12" stroke="#ff0000" stroke-width="1.4"/>
<line x1="342.70" y1="253.60" x2="347.50" y2="253.60" stroke="#ff0000" stroke-width="1.3"/>
<line x1="342.70" y1="267.12" x2="347.50" y2="267.12" stroke="#ff0000" stroke-width="1.4"/>
<circle cx="345.10" cy="260.36" r="2.2" fill="#ff0000"/>
<line x1="377.37" y1="218.76" x2="377.37" y2="249.96" stroke="#ff0000" stroke-width="1.4"/>
<line x1="374.97" y1="218.76" x2="379.77" y2="218.76" stroke="#ff0000" stroke-width="1.3"/>
<line x1="374.97" y1="249.96" x2="379.77" y2="249.96" stroke="#ff0000" stroke-width="1.4"/>
<circle cx="377.37" cy="234.36" r="2.2" fill="#ff0000"/>
<line x1="409.64" y1="209.92" x2="409.64" y2="222.40" stroke="#ff0000" stroke-width="1.4"/>
<line x1="407.24" y1="209.92" x2="412.04" y2="209.92" stroke="#ff0000" stroke-width="1.3"/>
<line x1="407.24" y1="222.40" x2="412.04" y2="222.40" stroke="#ff0000" stroke-width="1.4"/>
<circle cx="409.64" cy="216.16" r="2.2" fill="#ff0000"/>
<line x1="441.91" y1="202.12" x2="441.91" y2="217.72" stroke="#ff0000" stroke-width="1.4"/>
<line x1="439.51" y1="202.12" x2="444.31" y2="202.12" stroke="#ff0000" stroke-width="1.3"/>
<line x1="439.51" y1="217.72" x2="444.31" y2="217.72" stroke="#ff0000" stroke-width="1.4"/>
<circle cx="441.91" cy="209.92" r="2.2" fill="#ff0000"/>
<line x1="474.18" y1="182.36" x2="474.18" y2="194.84" stroke="#ff0000" stroke-width="1.4"/>
<line x1="471.78" y1="182.36" x2="476.58" y2="182.36" stroke="#ff0000" stroke-width="1.3"/>
<line x1="471.78" y1="194.84" x2="476.58" y2="194.84" stroke="#ff0000" stroke-width="1.4"/>
<circle cx="474.18" cy="188.60" r="2.2" fill="#ff0000"/>
<line x1="506.45" y1="169.88" x2="506.45" y2="182.36" stroke="#ff0000" stroke-width="1.4"/>
<line x1="504.05" y1="169.88" x2="508.85" y2="169.88" stroke="#ff0000" stroke-width="1.3"/>
<line x1="504.05" y1="182.36" x2="508.85" y2="182.36" stroke="#ff0000" stroke-width="1.4"/>
<circle cx="506.45" cy="176.12" r="2.2" fill="#ff0000"/>
<line x1="538.72" y1="168.84" x2="538.72" y2="181.32" stroke="#ff0000" stroke-width="1.4"/>
<line x1="536.32" y1="168.84" x2="541.12" y2="168.84" stroke="#ff0000" stroke-width="1.3"/>
<line x1="536.32" y1="181.32" x2="541.12" y2="181.32" stroke="#ff0000" stroke-width="1.4"/>
<circle cx="538.72" cy="175.08" r="2.2" fill="#ff0000"/>
<line x1="345.10" y1="244.76" x2="345.10" y2="265.56" stroke="#3a3a3a" stroke-width="1.4"/>
<line x1="342.70" y1="244.76" x2="347.50" y2="244.76" stroke="#3a3a3a" stroke-width="1.3"/>
<line x1="342.70" y1="265.56" x2="347.50" y2="265.56" stroke="#3a3a3a" stroke-width="1.4"/>
<circle cx="345.10" cy="255.16" r="2.2" fill="#3a3a3a"/>
<line x1="377.37" y1="215.12" x2="377.37" y2="242.16" stroke="#3a3a3a" stroke-width="1.4"/>
<line x1="374.97" y1="215.12" x2="379.77" y2="215.12" stroke="#3a3a3a" stroke-width="1.3"/>
<line x1="374.97" y1="242.16" x2="379.77" y2="242.16" stroke="#3a3a3a" stroke-width="1.4"/>
<circle cx="377.37" cy="228.64" r="2.2" fill="#3a3a3a"/>
<line x1="409.64" y1="190.16" x2="409.64" y2="219.28" stroke="#3a3a3a" stroke-width="1.4"/>
<line x1="407.24" y1="190.16" x2="412.04" y2="190.16" stroke="#3a3a3a" stroke-width="1.3"/>
<line x1="407.24" y1="219.28" x2="412.04" y2="219.28" stroke="#3a3a3a" stroke-width="1.4"/>
<circle cx="409.64" cy="204.72" r="2.2" fill="#3a3a3a"/>
<line x1="441.91" y1="175.60" x2="441.91" y2="196.40" stroke="#3a3a3a" stroke-width="1.4"/>
<line x1="439.51" y1="175.60" x2="444.31" y2="175.60" stroke="#3a3a3a" stroke-width="1.3"/>
<line x1="439.51" y1="196.40" x2="444.31" y2="196.40" stroke="#3a3a3a" stroke-width="1.4"/>
<circle cx="441.91" cy="186.00" r="2.2" fill="#3a3a3a"/>
<line x1="474.18" y1="157.40" x2="474.18" y2="189.64" stroke="#3a3a3a" stroke-width="1.4"/>
<line x1="471.78" y1="157.40" x2="476.58" y2="157.40" stroke="#3a3a3a" stroke-width="1.3"/>
<line x1="471.78" y1="189.64" x2="476.58" y2="189.64" stroke="#3a3a3a" stroke-width="1.4"/>
<circle cx="474.18" cy="173.52" r="2.2" fill="#3a3a3a"/>
<line x1="506.45" y1="156.36" x2="506.45" y2="166.76" stroke="#3a3a3a" stroke-width="1.4"/>
<line x1="504.05" y1="156.36" x2="508.85" y2="156.36" stroke="#3a3a3a" stroke-width="1.3"/>
<line x1="504.05" y1="166.76" x2="508.85" y2="166.76" stroke="#3a3a3a" stroke-width="1.4"/>
<circle cx="506.45" cy="161.56" r="2.2" fill="#3a3a3a"/>
<line x1="538.72" y1="133.48" x2="538.72" y2="148.04" stroke="#3a3a3a" stroke-width="1.4"/>
<line x1="536.32" y1="133.48" x2="541.12" y2="133.48" stroke="#3a3a3a" stroke-width="1.3"/>
<line x1="536.32" y1="148.04" x2="541.12" y2="148.04" stroke="#3a3a3a" stroke-width="1.4"/>
<circle cx="538.72" cy="140.76" r="2.2" fill="#3a3a3a"/>
<polygon points="410.30,178.30 410.92,179.75 412.49,179.89 411.30,180.92 411.65,182.46 410.30,181.65 408.95,182.46 409.30,180.92 408.11,179.89 409.68,179.75" fill="#1a1a1a"/>
<polygon points="439.65,162.80 440.27,164.25 441.84,164.39 440.65,165.42 441.00,166.96 439.65,166.15 438.30,166.96 438.65,165.42 437.46,164.39 439.03,164.25" fill="#1a1a1a"/>
<polygon points="443.55,162.80 444.17,164.25 445.74,164.39 444.55,165.42 444.90,166.96 443.55,166.15 442.20,166.96 442.55,165.42 441.36,164.39 442.93,164.25" fill="#1a1a1a"/>
<polygon points="473.05,148.10 473.67,149.55 475.24,149.69 474.05,150.72 474.40,152.26 473.05,151.45 471.70,152.26 472.05,150.72 470.86,149.69 472.43,149.55" fill="#1a1a1a"/>
<polygon points="476.95,148.10 477.57,149.55 479.14,149.69 477.95,150.72 478.30,152.26 476.95,151.45 475.60,152.26 475.95,150.72 474.76,149.69 476.33,149.55" fill="#1a1a1a"/>
<polygon points="504.35,141.50 504.97,142.95 506.54,143.09 505.35,144.12 505.70,145.66 504.35,144.85 503.00,145.66 503.35,144.12 502.16,143.09 503.73,142.95" fill="#1a1a1a"/>
<polygon points="508.25,141.50 508.87,142.95 510.44,143.09 509.25,144.12 509.60,145.66 508.25,144.85 506.90,145.66 507.25,144.12 506.06,143.09 507.63,142.95" fill="#1a1a1a"/>
<polygon points="537.85,123.50 538.47,124.95 540.04,125.09 538.85,126.12 539.20,127.66 537.85,126.85 536.50,127.66 536.85,126.12 535.66,125.09 537.23,124.95" fill="#1a1a1a"/>
<polygon points="541.75,123.50 542.37,124.95 543.94,125.09 542.75,126.12 543.10,127.66 541.75,126.85 540.40,127.66 540.75,126.12 539.56,125.09 541.13,124.95" fill="#1a1a1a"/>
<text x="410.9" y="260.2" font-size="6.6" text-anchor="middle" fill="#1a1a1a" >#</text>
<text x="443.1" y="260.2" font-size="6.6" text-anchor="middle" fill="#1a1a1a" >#</text>
<text x="475.5" y="234.8" font-size="6.6" text-anchor="middle" fill="#1a1a1a" >##</text>
<text x="507.4" y="225.0" font-size="6.6" text-anchor="middle" fill="#1a1a1a" >##</text>
<text x="539.6" y="209.8" font-size="6.6" text-anchor="middle" fill="#1a1a1a" >##</text>
<line x1="542" y1="249.30" x2="555" y2="249.30" stroke="#3a3a3a" stroke-width="1.3"/>
<circle cx="548.70" cy="249.30" r="2.2" fill="#3a3a3a"/>
<text x="562.2" y="251.70000000000002" font-size="6.8" text-anchor="start" fill="#1a1a1a" textLength="13.1" lengthAdjust="spacingAndGlyphs" >Con</text>
<line x1="542" y1="259.70" x2="555" y2="259.70" stroke="#a8a8a8" stroke-width="1.3" stroke-dasharray="1.2,1.6"/>
<path d="M546.30,261.50 L551.10,261.50 L548.70,257.30 Z" fill="#a8a8a8"/>
<text x="562.2" y="262.09999999999997" font-size="6.8" text-anchor="start" fill="#1a1a1a" textLength="17.4" lengthAdjust="spacingAndGlyphs" >Cur-1</text>
<line x1="542" y1="270.10" x2="555" y2="270.10" stroke="#7f7f7f" stroke-width="1.3" stroke-dasharray="3,2"/>
<path d="M546.30,268.30 L551.10,268.30 L548.70,272.50 Z" fill="#7f7f7f"/>
<text x="562.2" y="272.5" font-size="6.8" text-anchor="start" fill="#1a1a1a" textLength="17.4" lengthAdjust="spacingAndGlyphs" >Cur-2</text>
<line x1="542" y1="280.10" x2="555" y2="280.10" stroke="#1010ff" stroke-width="1.3" stroke-dasharray="3,2"/>
<path d="M548.70,277.70 L550.90,280.10 L548.70,282.50 L546.50,280.10 Z" fill="#1010ff"/>
<text x="562.2" y="282.5" font-size="6.8" text-anchor="start" fill="#1a1a1a" textLength="17.4" lengthAdjust="spacingAndGlyphs" >Cur-3</text>
<line x1="590.3" y1="249.30" x2="603.3" y2="249.30" stroke="#ff0000" stroke-width="1.3"/>
<circle cx="596.90" cy="249.30" r="2.2" fill="#ff0000"/>
<text x="609.6" y="251.70000000000002" font-size="6.8" text-anchor="start" fill="#1a1a1a" textLength="15.0" lengthAdjust="spacingAndGlyphs" >H14d</text>
<line x1="590.3" y1="259.70" x2="603.3" y2="259.70" stroke="#ff1010" stroke-width="1.3" stroke-dasharray="1.2,1.6"/>
<path d="M594.50,261.50 L599.30,261.50 L596.90,257.30 Z" fill="#ff1010"/>
<text x="609.6" y="262.09999999999997" font-size="6.8" text-anchor="start" fill="#1a1a1a" textLength="36.4" lengthAdjust="spacingAndGlyphs" >H14d+Cur-1</text>
<line x1="590.3" y1="270.10" x2="603.3" y2="270.10" stroke="#ff8080" stroke-width="1.3" stroke-dasharray="3,2"/>
<path d="M594.50,268.30 L599.30,268.30 L596.90,272.50 Z" fill="#ff8080"/>
<text x="609.6" y="272.5" font-size="6.8" text-anchor="start" fill="#1a1a1a" textLength="36.4" lengthAdjust="spacingAndGlyphs" >H14d+Cur-2</text>
<line x1="590.3" y1="280.10" x2="603.3" y2="280.10" stroke="#b01010" stroke-width="1.3" stroke-dasharray="3,2"/>
<path d="M596.90,277.70 L599.10,280.10 L596.90,282.50 L594.70,280.10 Z" fill="#b01010"/>
<text x="609.6" y="282.5" font-size="6.8" text-anchor="start" fill="#1a1a1a" textLength="36.4" lengthAdjust="spacingAndGlyphs" >H14d+Cur-3</text>
</svg>
</body></html>
